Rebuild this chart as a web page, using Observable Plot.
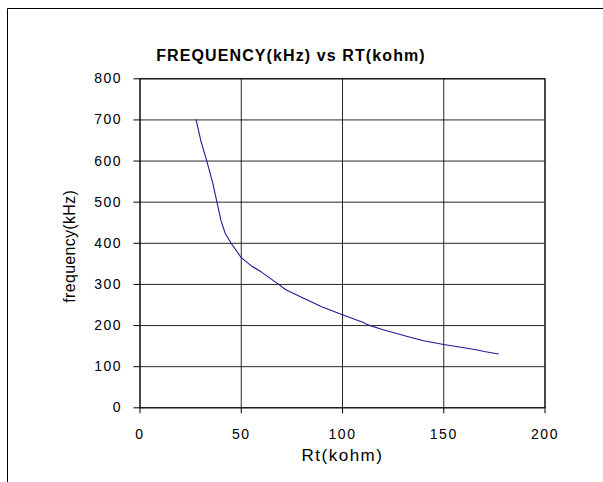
<!DOCTYPE html>
<html>
<head>
<meta charset="utf-8">
<script src="https://cdn.jsdelivr.net/npm/d3@7"></script>
<script src="https://cdn.jsdelivr.net/npm/@observablehq/plot@0.6"></script>
<style>
  html, body { margin: 0; padding: 0; background: #fff; }
  #chart { width: 603px; height: 482px; position: relative; }
</style>
</head>
<body>
<div id="chart"></div>
<script>
const rtKohm = [27.7, 30, 33, 36, 38, 40, 42, 45, 50, 55, 60, 68, 72, 80, 90, 100, 110, 113, 120, 133, 140, 150, 160, 166, 170, 177];
const freqKHz = [700, 650, 600, 545, 500, 455, 425, 400, 365, 345, 330, 302, 287, 268, 245, 226, 208, 201, 190, 172, 163, 154, 146, 141, 137, 131];
const xTicks = [0, 50, 100, 150, 200];
const yTicks = [0, 100, 200, 300, 400, 500, 600, 700, 800];
const titleText = "FREQUENCY(kHz) vs RT(kohm)";
const xLabel = "Rt(kohm)";
const yLabel = "frequency(kHz)";

const data = rtKohm.map((x, i) => ({x, y: freqKHz[i]}));

const chart = Plot.plot({
  width: 603,
  height: 482,
  marginLeft: 139.5,
  marginRight: 58.5,
  marginTop: 78.3,
  marginBottom: 74.7,
  style: {fontFamily: "'Liberation Sans', Arial, sans-serif", fontSize: "14px", color: "#000", background: "#fff"},
  x: {domain: [0, 200], ticks: xTicks, label: null},
  y: {domain: [0, 800], ticks: yTicks, label: null},
  marks: [
    Plot.gridX(xTicks, {stroke: "#000", strokeOpacity: 0.85}),
    Plot.gridY(yTicks, {stroke: "#000", strokeOpacity: 0.85}),
    Plot.frame({stroke: "#000"}),
    Plot.axisX({ticks: xTicks, tickSize: 6, tickPadding: 15, fontSize: 14, label: null, stroke: "#000"}),
    Plot.axisY({ticks: yTicks, tickSize: 6, tickPadding: 12, fontSize: 14, label: null, stroke: "#000"}),
    Plot.line(data, {x: "x", y: "y", stroke: "#1c1c98", strokeWidth: 1.1}),
    Plot.text([titleText], {frameAnchor: "top", dx: -51.5, dy: -29, text: d => d, fontSize: 16, fontWeight: "bold", fill: "#000"}),
    Plot.text([xLabel], {frameAnchor: "bottom", dx: 0, dy: 53, text: d => d, fontSize: 17, fill: "#000"}),
    Plot.text([yLabel], {frameAnchor: "left", dx: -70.5, dy: 3, rotate: -90, textAnchor: "middle", text: d => d, fontSize: 16, fill: "#000"})
  ]
});
document.getElementById("chart").appendChild(chart);

const svg = d3.select(chart);
svg.selectAll("text").filter(function() { return this.textContent === titleText; }).style("letter-spacing", "1.1px");
svg.selectAll("text").filter(function() { return this.textContent === xLabel; }).style("letter-spacing", "1.5px");
svg.selectAll("text").filter(function() { return this.textContent === yLabel; }).style("letter-spacing", "0.3px");
svg.selectAll("g[aria-label='x-axis tick label'] text, g[aria-label='y-axis tick label'] text").style("letter-spacing", "1.5px");
// outer chart border (top and left edges visible in the reference)
svg.append("path")
  .attr("d", "M7.5,482 L7.5,8.5 L603,8.5")
  .attr("fill", "none")
  .attr("stroke", "#000")
  .attr("stroke-width", 1);
</script>
</body>
</html>
